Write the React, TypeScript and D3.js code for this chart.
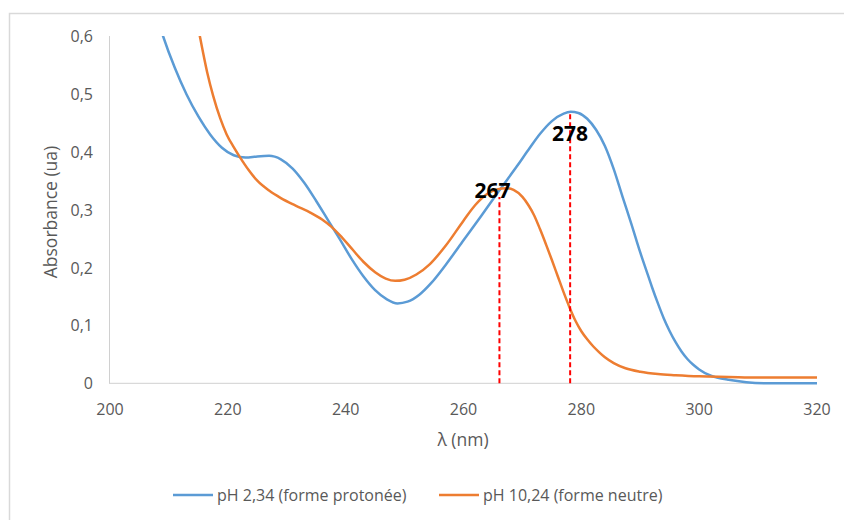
import React from "react";
import * as d3 from "d3";

// ---- data ----
const blueLambda = [208, 209, 211, 213, 215, 217, 219, 221, 223, 225, 227, 229, 231, 233, 235, 237, 239, 241, 243, 245, 247, 248.8, 250.5, 252.5, 254.5, 257, 260, 263, 266, 269, 271, 273, 275, 277, 278.2, 279.5, 281, 282.5, 284, 285.5, 287, 288.5, 290, 291, 292, 293, 294, 295, 296, 297, 298, 299, 300, 302, 303, 305, 308, 312, 320];
const blueAbs = [0.632, 0.600, 0.545, 0.499, 0.461, 0.430, 0.407, 0.394, 0.390, 0.392, 0.393, 0.387, 0.371, 0.346, 0.315, 0.282, 0.249, 0.215, 0.185, 0.161, 0.145, 0.138, 0.141, 0.153, 0.173, 0.205, 0.247, 0.289, 0.332, 0.374, 0.403, 0.431, 0.453, 0.466, 0.469, 0.467, 0.457, 0.438, 0.410, 0.370, 0.322, 0.275, 0.226, 0.196, 0.166, 0.138, 0.112, 0.090, 0.071, 0.055, 0.042, 0.032, 0.024, 0.013, 0.010, 0.006, 0.002, 0.0, 0.0];

const orangeLambda = [214.6, 215.3, 216.5, 217.5, 218.7, 219.8, 221, 222.1, 223.5, 225, 227, 229, 231.5, 234, 236, 237.5, 239, 241, 243, 245, 246.8, 248.4, 250, 252, 254.3, 257, 260, 262, 264, 265.7, 267.3, 268.5, 270, 271, 272, 273, 274, 275, 276, 277, 278, 279, 280, 281, 282, 283, 284, 285.5, 287.5, 290, 293, 296, 300, 305, 310, 320];
const orangeAbs = [0.635, 0.597, 0.537, 0.497, 0.458, 0.430, 0.408, 0.390, 0.369, 0.350, 0.333, 0.320, 0.307, 0.295, 0.283, 0.271, 0.256, 0.233, 0.210, 0.192, 0.181, 0.177, 0.179, 0.188, 0.206, 0.238, 0.281, 0.308, 0.327, 0.335, 0.337, 0.334, 0.322, 0.308, 0.290, 0.266, 0.240, 0.213, 0.185, 0.157, 0.131, 0.108, 0.090, 0.076, 0.064, 0.054, 0.045, 0.035, 0.026, 0.020, 0.016, 0.014, 0.012, 0.011, 0.010, 0.010];

const seriesNames = ["pH 2,34 (forme protonée)", "pH 10,24 (forme neutre)"];
const markerLambda = [266.1, 278.1];
const markerTop = [0.322, 0.469];
const markerLabels = ["267", "278"];

const xTicks = [200, 220, 240, 260, 280, 300, 320];
const yTicks = [0, 0.1, 0.2, 0.3, 0.4, 0.5, 0.6];

// ---- layout ----
const W = 844;
const H = 520;
const plot = { left: 110, right: 817, top: 36, bottom: 383.3 };
const BLUE = "#5B9BD5";
const ORANGE = "#ED7D31";
const FONT = "'Open Sans', 'Noto Sans', sans-serif";

export default function App() {
  const x = d3.scaleLinear().domain([200, 320]).range([plot.left, plot.right]);
  const y = d3.scaleLinear().domain([0, 0.6]).range([plot.bottom, plot.top]);

  const line = d3
    .line<[number, number]>()
    .x((d) => x(d[0]))
    .y((d) => y(d[1]))
    .curve(d3.curveMonotoneX);

  const blue: [number, number][] = blueLambda.map((l, i) => [l, blueAbs[i]]);
  const orange: [number, number][] = orangeLambda.map((l, i) => [l, orangeAbs[i]]);

  const fmt = (v: number) => (v === 0 ? "0" : d3.format(".1f")(v).replace(".", ","));

  const labelOffsets = [
    { dx: -7, dy: 1 },
    { dx: 0, dy: 29 },
  ];

  return (
    <svg
      width={W}
      height={H}
      style={{ position: "absolute", left: 0, top: 0, background: "#fff" }}
    >
      <defs>
        <clipPath id="plotClip">
          <rect x={plot.left} y={plot.top} width={plot.right - plot.left + 2} height={plot.bottom - plot.top + 2} />
        </clipPath>
      </defs>
      <rect x={9.5} y={13.5} width={840} height={520} fill="#fff" stroke="#D9D9D9" strokeWidth={1.5} />

      {/* axes lines */}
      <line x1={plot.left - 0.5} x2={plot.left - 0.5} y1={plot.top} y2={plot.bottom} stroke="#D0D0D0" strokeWidth={1} />
      <line x1={plot.left - 1} x2={plot.right} y1={plot.bottom} y2={plot.bottom} stroke="#D0D0D0" strokeWidth={1} />

      {/* y tick labels */}
      {yTicks.map((t) => (
        <text
          key={"y" + t}
          x={93}
          y={y(t)}
          textAnchor="end"
          dominantBaseline="central"
          fontFamily={FONT}
          fontSize={16}
          fill="#595959"
        >
          {fmt(t)}
        </text>
      ))}
      {/* x tick labels */}
      {xTicks.map((t) => (
        <text
          key={"x" + t}
          x={x(t)}
          y={409}
          textAnchor="middle"
          dominantBaseline="central"
          fontFamily={FONT}
          fontSize={16}
          fill="#595959"
        >
          {t}
        </text>
      ))}

      {/* axis titles */}
      <text
        x={463}
        y={439}
        textAnchor="middle"
        dominantBaseline="central"
        fontFamily={FONT}
        fontSize={17.5}
        fill="#595959"
      >
        λ (nm)
      </text>
      <text
        transform={`translate(50, 212) rotate(-90)`}
        textAnchor="middle"
        dominantBaseline="central"
        fontFamily={FONT}
        fontSize={17.5}
        fill="#595959"
      >
        Absorbance (ua)
      </text>

      {/* series */}
      <g clipPath="url(#plotClip)">
        <path d={line(blue) || ""} fill="none" stroke={BLUE} strokeWidth={2.5} strokeLinejoin="round" />
        <path d={line(orange) || ""} fill="none" stroke={ORANGE} strokeWidth={2.5} strokeLinejoin="round" />
      </g>

      {/* markers */}
      {markerLambda.map((l, i) => (
        <g key={"m" + i}>
          <line
            x1={x(l)}
            x2={x(l)}
            y1={y(0)}
            y2={y(markerTop[i])}
            stroke="#FF0000"
            strokeWidth={2}
            strokeDasharray="5,3"
          />
          <text
            x={x(l) + labelOffsets[i].dx}
            y={y(markerTop[i]) + labelOffsets[i].dy}
            textAnchor="middle"
            fontFamily={FONT}
            fontWeight="bold"
            fontSize={21}
            fill="#000"
          >
            {markerLabels[i]}
          </text>
        </g>
      ))}

      {/* legend */}
      {seriesNames.map((name, i) => {
        const lx = i === 0 ? 173 : 439;
        const color = i === 0 ? BLUE : ORANGE;
        return (
          <g key={"lg" + i}>
            <line x1={lx} x2={lx + 40} y1={495} y2={495} stroke={color} strokeWidth={2.5} />
            <text
              x={lx + 44}
              y={495}
              dominantBaseline="central"
              fontFamily={FONT}
              fontSize={16}
              fill="#595959"
            >
              {name}
            </text>
          </g>
        );
      })}
    </svg>
  );
}
